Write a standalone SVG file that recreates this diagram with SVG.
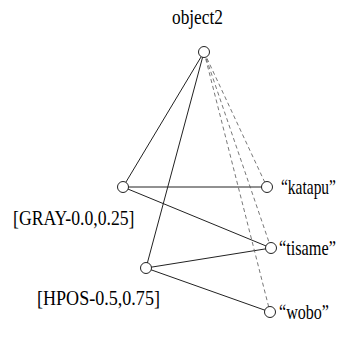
<svg xmlns="http://www.w3.org/2000/svg" width="342" height="339" viewBox="0 0 342 339">
<style>
.n{fill:#fff;stroke:#222;stroke-width:1}
.t{font-family:"Liberation Serif","Times New Roman",serif;font-size:20px;fill:#000}
.s{stroke:#222;stroke-width:1;fill:none}
.d{stroke:#555;stroke-width:0.8;stroke-dasharray:4,3;fill:none}
</style>
<rect width="342" height="339" fill="#fff"/>
<g id="connectors">
<line class="s" x1="204" y1="52" x2="123" y2="187"/>
<line class="s" x1="204" y1="52" x2="146" y2="268"/>
<line class="s" x1="123" y1="187" x2="267" y2="187"/>
<line class="s" x1="123" y1="187" x2="271" y2="248"/>
<line class="s" x1="146" y1="268" x2="271" y2="248"/>
<line class="s" x1="146" y1="268" x2="270" y2="312"/>
<line class="d" x1="204" y1="52" x2="267" y2="187"/>
<line class="d" x1="204" y1="52" x2="271" y2="248"/>
<line class="d" x1="204" y1="52" x2="270" y2="312"/>
</g>
<g id="object2"><circle class="n" cx="204" cy="52" r="5.5"/><text class="t" transform="translate(172,24) scale(0.866,1)">object2</text></g>
<g id="gray"><circle class="n" cx="123" cy="187" r="5.5"/><text class="t" transform="translate(13,225) scale(0.883,1)">[GRAY-0.0,0.25]</text></g>
<g id="hpos"><circle class="n" cx="146" cy="268" r="5.5"/><text class="t" transform="translate(37,305) scale(0.904,1)">[HPOS-0.5,0.75]</text></g>
<g id="katapu"><circle class="n" cx="267" cy="187" r="5.5"/><text class="t" transform="translate(281,194) scale(0.774,1)">“katapu”</text></g>
<g id="tisame"><circle class="n" cx="271" cy="248" r="5.5"/><text class="t" transform="translate(279,255) scale(0.814,1)">“tisame”</text></g>
<g id="wobo"><circle class="n" cx="270" cy="312" r="5.5"/><text class="t" transform="translate(279,319) scale(0.804,1)">“wobo”</text></g>
</svg>
